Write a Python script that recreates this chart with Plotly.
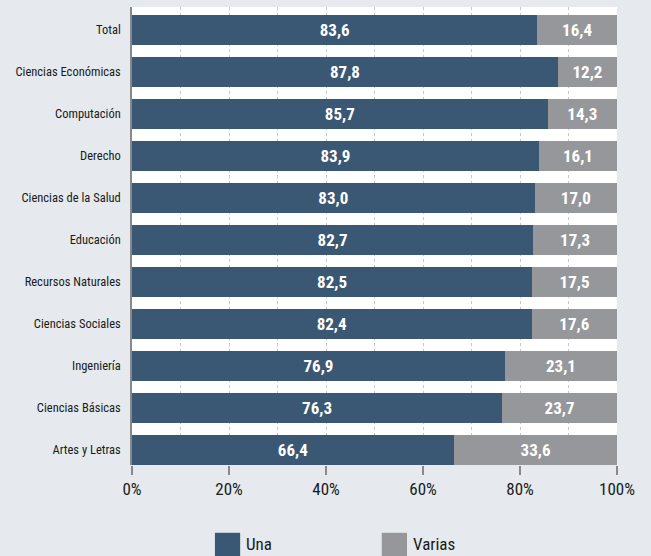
import plotly.graph_objects as go

categories = ["Total", "Ciencias Económicas", "Computación", "Derecho", "Ciencias de la Salud",
              "Educación", "Recursos Naturales", "Ciencias Sociales", "Ingeniería",
              "Ciencias Básicas", "Artes y Letras"]
una = [83.6, 87.8, 85.7, 83.9, 83.0, 82.7, 82.5, 82.4, 76.9, 76.3, 66.4]
varias = [16.4, 12.2, 14.3, 16.1, 17.0, 17.3, 17.5, 17.6, 23.1, 23.7, 33.6]
series_names = ["Una", "Varias"]
tick_vals = [0, 20, 40, 60, 80, 100]
tick_text = ["0%", "20%", "40%", "60%", "80%", "100%"]

FONT = "Noto Sans ExtraCondensed, Noto Sans Condensed, Roboto Condensed, Roboto, sans-serif"
BLUE = "#3a5773"
GRAY = "#96979b"
BG = "#e6eaee"

fig = go.Figure()
for name, vals, col in [(series_names[0], una, BLUE), (series_names[1], varias, GRAY)]:
    fig.add_trace(go.Bar(
        y=categories, x=vals, orientation="h", name=name,
        marker=dict(color=col, line=dict(width=0)),
        texttemplate="%{x:.1f}", textposition="inside", insidetextanchor="middle",
        textfont=dict(family=FONT, size=17, color="white", weight="bold"),
        showlegend=False,
    ))

fig.update_layout(
    barmode="stack", bargap=0.286,
    separators=",.",
    width=651, height=556,
    paper_bgcolor=BG, plot_bgcolor="white",
    margin=dict(l=132, r=34, t=7, b=91),
    font=dict(family=FONT, color="#1a1a1a"),
    xaxis=dict(range=[0, 100], tickvals=tick_vals, ticktext=tick_text,
               ticks="outside", ticklen=9, tickcolor="#888", tickwidth=1.5,
               tickfont=dict(size=17, family=FONT, color="#1a1a1a"),
               showgrid=True, gridcolor="#c8c8c8", griddash="dot", gridwidth=1,
               minor=dict(dtick=10, showgrid=True, gridcolor="#c8c8c8", griddash="dot"),
               zeroline=False, showline=False, fixedrange=True, automargin=False),
    yaxis=dict(range=[10.357, -0.548], showline=True, linecolor="#888", linewidth=1.5,
               ticks="", ticklabelstandoff=7, automargin=False,
               tickfont=dict(size=12.5, family=FONT, color="#1a1a1a"),
               showgrid=False, fixedrange=True),
)

# custom legend
legend_items = [(series_names[0], BLUE, 0.171), (series_names[1], GRAY, 0.515)]
for name, col, x0 in legend_items:
    fig.add_shape(type="rect", xref="paper", yref="paper",
                  x0=x0, x1=x0 + 0.052, y0=-0.148, y1=-0.2,
                  fillcolor=col, line=dict(width=0))
    fig.add_annotation(xref="paper", yref="paper", x=x0 + 0.06, y=-0.172,
                       text=name, showarrow=False, xanchor="left", yanchor="middle",
                       font=dict(size=17, family=FONT, color="#1a1a1a"))

fig.write_html("out.html", post_script="document.body.style.margin='0';",
               config={"displayModeBar": False})
